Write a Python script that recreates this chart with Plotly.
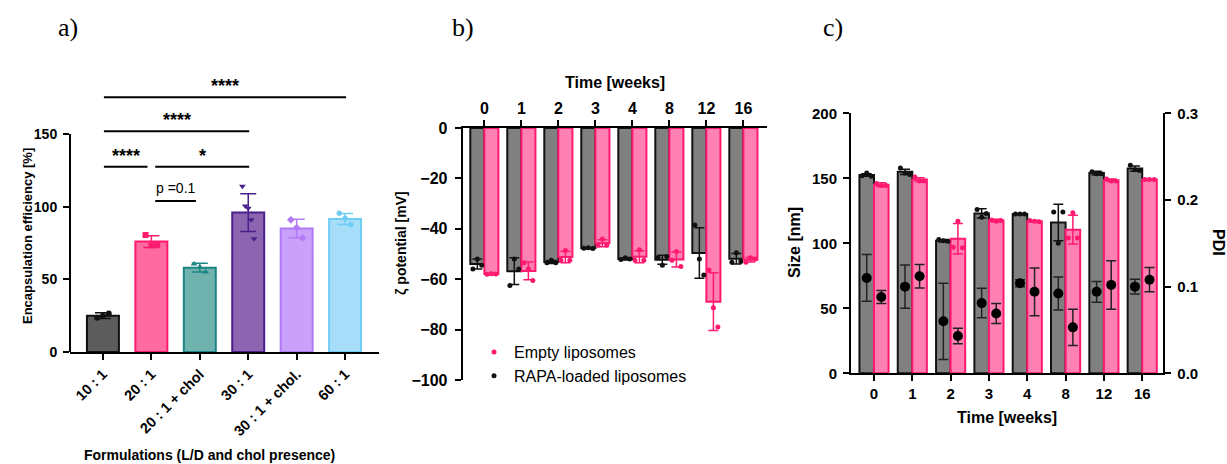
import plotly.graph_objects as go

W, H = 1227, 464

BOLD = dict(family="Liberation Sans", weight="bold", color="black")
BLACK = "#111111"
GRAY_FILL = "#808080"
PINK_FILL = "#ff80b2"
PINK_LINE = "#ff1a70"

# ---------------- a) encapsulation efficiency ----------------
formulations = ["10 : 1", "20 : 1", "20 : 1 + chol", "30 : 1", "30 : 1 + chol.", "60 : 1"]
ee_mean = [25, 76, 58, 96, 85, 91.5]
ee_sd = [2, 4, 3, 13, 6.3, 3.8]
ee_points = [
    [23.5, 25, 26.5],
    [80.5, 73.5, 74],
    [60.5, 58.5, 55],
    [114, 100.5, 99, 91, 78],
    [91, 85.5, 78.5],
    [95.5, 92, 87.5],
]
ee_fill = ["#5c5c5c", "#ff6b9e", "#6fb2ae", "#8b65b0", "#c9a0fa", "#a6defa"]
ee_line = ["#111111", "#ff1a70", "#1c8585", "#4a1f8c", "#b37af5", "#6fcdf5"]
ee_symbols = ["circle", "square", "triangle-up", "triangle-down", "diamond", "hexagon"]

# significance brackets: (group from, group to, label, bracket height in %)
comparisons = [
    (0, 5, "****", 175.3),
    (0, 3, "****", 151.9),
    (0, 1, "****", 127.5),
    (1, 3, "*", 127.5),
    (1, 2, "p =0.1", 103.9),
]

# ---------------- b) zeta potential ----------------
weeks = ["0", "1", "2", "3", "4", "8", "12", "16"]
zeta_rapa = [-54, -56.8, -53.2, -47.7, -52, -52.3, -49.6, -51.9]
zeta_rapa_sd = [2, 5.3, 0.6, 0.2, 0.4, 1.8, 10, 2.1]
zeta_rapa_pts = [
    [-56, -52, -54.5], [-62.5, -52, -56], [-53.5, -52.5, -53.5], [-47.7, -47.5, -47.8],
    [-52.2, -51.5, -52], [-51.5, -54.5, -51], [-38.5, -52, -58.3], [-53.3, -49.5, -53],
]
zeta_empty = [-57.9, -56.7, -51.2, -45.7, -51.1, -52.2, -68.9, -52.3]
zeta_empty_sd = [0.3, 3.5, 2.3, 1.4, 2.4, 3, 11.5, 0.9]
zeta_empty_pts = [
    [-58, -57.8, -57.9], [-53.5, -56, -60.5], [-52.5, -48.6, -52.5], [-46.5, -44, -46.5],
    [-52.5, -48.3, -52.5], [-52.5, -49, -55], [-56.3, -71.3, -79], [-53.3, -51.5, -52],
]

# ---------------- c) size and PDI ----------------
size_rapa = [152.5, 155, 102, 123, 122.5, 116, 154, 157.5]
size_rapa_sd = [1, 2, 1, 3.5, 0.5, 14, 1.5, 2]
size_rapa_pts = [
    [152, 154, 151.5], [158, 154, 153], [103, 102, 101.5], [126, 120, 123],
    [122.5, 122.5, 122.5], [124, 100, 124], [155, 153.5, 153.5], [160, 156.5, 156],
]
size_empty = [145, 149, 103.5, 117.5, 117, 110.5, 148.5, 149]
size_empty_sd = [1.5, 1.5, 11.8, 1, 0.5, 11, 1, 0.5]
size_empty_pts = [
    [146, 144.5, 144.5], [151, 148, 148], [97, 117, 96.5], [118, 117, 117.5],
    [117.5, 117, 116.5], [104, 123.5, 104], [149.5, 148, 148], [149, 149, 149],
]
pdi_rapa = [0.110, 0.100, 0.060, 0.081, 0.104, 0.092, 0.094, 0.100]
pdi_rapa_sd = [0.027, 0.025, 0.044, 0.017, 0.004, 0.019, 0.012, 0.0085]
pdi_empty = [0.088, 0.112, 0.043, 0.069, 0.094, 0.053, 0.102, 0.108]
pdi_empty_sd = [0.0075, 0.0135, 0.009, 0.0115, 0.0275, 0.021, 0.028, 0.014]

fig = go.Figure()

# ---- panel a bars, replicate points ----
for i, name in enumerate(formulations):
    fig.add_trace(go.Bar(
        x=[i], y=[ee_mean[i]], width=0.66, xaxis="x", yaxis="y",
        marker=dict(color=ee_fill[i], line=dict(color=ee_line[i], width=2)),
        error_y=dict(type="data", array=[ee_sd[i]], color=ee_line[i], thickness=1.5, width=8),
        showlegend=False, hoverinfo="skip",
    ))
    n = len(ee_points[i])
    offs = [(-0.12 + 0.24 * k / (n - 1)) if n > 1 else 0 for k in range(n)]
    fig.add_trace(go.Scatter(
        x=[i + o for o in offs], y=ee_points[i], mode="markers", xaxis="x", yaxis="y",
        marker=dict(symbol=ee_symbols[i], size=6, color=ee_line[i]),
        showlegend=False, hoverinfo="skip",
    ))

BW = 0.38  # width of each bar in a two-bar group
JIT = [-0.12, 0.0, 0.12]
idx = list(range(len(weeks)))


def group_traces(xa, ya, rapa, rapa_sd, rapa_pts, empty, empty_sd, empty_pts, legend):
    specs = [
        (rapa, rapa_sd, rapa_pts, -BW, GRAY_FILL, BLACK, "RAPA-loaded liposomes", 2),
        (empty, empty_sd, empty_pts, 0.0, PINK_FILL, PINK_LINE, "Empty liposomes", 1),
    ]
    for vals, sd, pts, off, fill, line, name, rank in specs:
        fig.add_trace(go.Bar(
            x=idx, y=vals, width=BW, offset=off, xaxis=xa, yaxis=ya,
            marker=dict(color=fill, line=dict(color=line, width=2)),
            error_y=dict(type="data", array=sd, color=line, thickness=1.5, width=5),
            showlegend=False, hoverinfo="skip",
        ))
        px, py = [], []
        for i, reps in enumerate(pts):
            for j, v in enumerate(reps):
                px.append(i + off + BW / 2 + JIT[j])
                py.append(v)
        fig.add_trace(go.Scatter(
            x=px, y=py, mode="markers", xaxis=xa, yaxis=ya, name=name,
            marker=dict(size=5, color=line), showlegend=legend, legendrank=rank,
            hoverinfo="skip",
        ))


group_traces("x2", "y2", zeta_rapa, zeta_rapa_sd, zeta_rapa_pts,
             zeta_empty, zeta_empty_sd, zeta_empty_pts, True)
group_traces("x3", "y3", size_rapa, size_rapa_sd, size_rapa_pts,
             size_empty, size_empty_sd, size_empty_pts, False)

# PDI on the secondary axis
for vals, sd, off in [(pdi_rapa, pdi_rapa_sd, -BW / 2), (pdi_empty, pdi_empty_sd, BW / 2)]:
    fig.add_trace(go.Scatter(
        x=[i + off for i in idx], y=vals, mode="markers", xaxis="x3", yaxis="y4",
        marker=dict(size=10, color="black"),
        error_y=dict(type="data", array=sd, color="#222222", thickness=1.5, width=5),
        showlegend=False, hoverinfo="skip",
    ))


def px2x(p):
    return p / W


def px2y(p):
    return 1 - p / H


axis_common = dict(showgrid=False, zeroline=False, showline=True, linecolor="black",
                   linewidth=2, ticks="outside", tickcolor="black", tickwidth=2, ticklen=6,
                   automargin=False)

fig.update_layout(
    width=W, height=H, margin=dict(l=0, r=0, t=0, b=0, pad=0, autoexpand=False),
    paper_bgcolor="white", plot_bgcolor="white", barmode="overlay",
    font=dict(family="Liberation Sans", color="black"),
    xaxis=dict(domain=[px2x(70), px2x(379)], range=[-0.68, 5.7], anchor="y",
               tickvals=list(range(len(formulations))), ticktext=formulations,
               tickangle=-45, tickfont=dict(size=14.5, **BOLD), **axis_common),
    yaxis=dict(domain=[px2y(352), px2y(83.2)], range=[0, 185], anchor="x",
               tickvals=[0, 50, 100, 150], tickfont=dict(size=14, **BOLD),
               ticklabelstandoff=3, **{**axis_common, "showline": False}),
    xaxis2=dict(domain=[px2x(462.7), px2x(766.7)], range=[-0.585, 7.63], anchor="y2",
                side="top", tickvals=idx, ticktext=weeks,
                tickfont=dict(size=16, **BOLD), **axis_common),
    yaxis2=dict(domain=[px2y(380), px2y(128)], range=[-100, 0], anchor="x2",
                tickvals=[-100, -80, -60, -40, -20, 0], tickfont=dict(size=16, **BOLD),
                ticklabelstandoff=4, **axis_common),
    xaxis3=dict(domain=[px2x(851), px2x(1163.3)], range=[-0.6, 7.55], anchor="y3",
                tickvals=idx, ticktext=weeks, tickfont=dict(size=15, **BOLD), **axis_common),
    yaxis3=dict(domain=[px2y(373.3), px2y(113.3)], range=[0, 200], anchor="x3",
                tickvals=[0, 50, 100, 150, 200], tickfont=dict(size=15, **BOLD),
                ticklabelstandoff=3, **axis_common),
    yaxis4=dict(range=[0, 0.3], overlaying="y3", side="right", anchor="x3",
                tickvals=[0, 0.1, 0.2, 0.3], ticktext=["0.0", "0.1", "0.2", "0.3"],
                tickfont=dict(size=15, **BOLD), ticklabelstandoff=3, **axis_common),
    legend=dict(x=px2x(474), y=px2y(335), xanchor="left", yanchor="top",
                bgcolor="rgba(0,0,0,0)", font=dict(size=16, color="black",
                                                   family="Liberation Sans"),
                tracegroupgap=0),
)

shapes = [
    # left axis of panel a, drawn only up to 150
    dict(type="line", xref="x domain", yref="y", x0=0, x1=0, y0=0, y1=150,
         line=dict(color="black", width=2)),
]
annotations = []
for a, b, label, h in comparisons:
    x0 = a + (0.08 if label != "****" or a != 0 else 0.02)
    x1 = b - (0.08 if b in (1, 2) else -0.02)
    shapes.append(dict(type="line", xref="x", yref="y", x0=x0, x1=x1, y0=h, y1=h,
                       line=dict(color="black", width=2)))
    stars = label != "p =0.1"
    annotations.append(dict(
        x=(x0 + x1) / 2, y=h, xref="x", yref="y", text=label, showarrow=False,
        yanchor="bottom", yshift=-1 if stars else 3,
        font=dict(size=18 if stars else 14, family="Liberation Sans",
                  weight="bold" if stars else "normal", color="black"),
    ))


def text_ann(x, y, text, size, angle=0, bold=True, family="Liberation Sans"):
    annotations.append(dict(
        x=px2x(x), y=px2y(y), xref="paper", yref="paper", text=text, showarrow=False,
        textangle=angle, xanchor="center", yanchor="middle",
        font=dict(size=size, family=family, color="black",
                  weight="bold" if bold else "normal"),
    ))


text_ann(28, 236, "Encapsulation efficiency [%]", 13, angle=-90)
text_ann(209, 455, "Formulations (L/D and chol presence)", 14)
text_ann(615, 82, "Time [weeks]", 16)
text_ann(401, 243, "ζ potential [mV]", 14, angle=-90)
text_ann(795, 243, "Size [nm]", 16, angle=-90)
text_ann(1219, 242, "PDI", 16, angle=90)
text_ann(1007, 417, "Time [weeks]", 16)
text_ann(68, 27, "a)", 26, bold=False, family="Liberation Serif")
text_ann(463, 27, "b)", 26, bold=False, family="Liberation Serif")
text_ann(833, 27, "c)", 26, bold=False, family="Liberation Serif")

fig.update_layout(shapes=shapes, annotations=annotations)
fig.write_html(
    "out.html",
    config={"displayModeBar": False},
    post_script="document.body.style.margin = '0'; document.body.style.overflow = 'hidden';",
)
